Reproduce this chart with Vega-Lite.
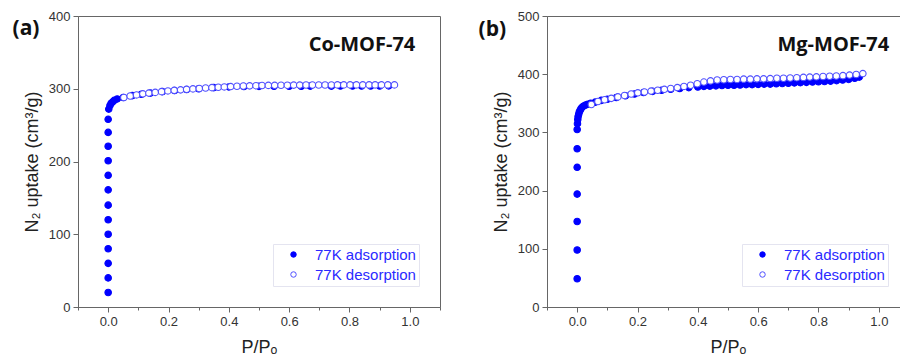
{
  "$schema": "https://vega.github.io/schema/vega-lite/v6.json",
  "padding": {"left": 12, "top": 9, "right": 0, "bottom": 0},
  "spacing": 37,
  "config": {
    "font": "Liberation Sans",
    "view": {"stroke": "#666666", "strokeWidth": 1},
    "axis": {
      "domainColor": "#666666", "tickColor": "#666666", "labelColor": "#333333",
      "labelFontSize": 13, "titleFontSize": 18, "titleFontWeight": "normal", "titleColor": "#222222",
      "grid": false, "labelOverlap": false, "labelFlush": false, "labelPadding": 3
    },
    "legend": {
      "orient": "bottom-right", "offset": 21, "title": null,
      "labelColor": "#2a2aff", "labelFontSize": 15, "labelFont": "Liberation Sans",
      "symbolSize": 30, "symbolStrokeWidth": 1, "symbolType": "circle",
      "strokeColor": "#e4e4f0", "fillColor": "#ffffff", "padding": 3, "symbolOffset": 10,
      "labelOffset": 14, "rowPadding": 4
    }
  },
  "datasets": {
    "co": [
      {"p": 0, "v": 20, "series": "77K adsorption"},
      {"p": 0, "v": 40, "series": "77K adsorption"},
      {"p": 0, "v": 60, "series": "77K adsorption"},
      {"p": 0, "v": 80, "series": "77K adsorption"},
      {"p": 0, "v": 100, "series": "77K adsorption"},
      {"p": 0, "v": 120, "series": "77K adsorption"},
      {"p": 0, "v": 140, "series": "77K adsorption"},
      {"p": 0, "v": 161, "series": "77K adsorption"},
      {"p": 0, "v": 181, "series": "77K adsorption"},
      {"p": 0, "v": 201, "series": "77K adsorption"},
      {"p": 0, "v": 221, "series": "77K adsorption"},
      {"p": 0, "v": 240, "series": "77K adsorption"},
      {"p": 0, "v": 258, "series": "77K adsorption"},
      {"p": 0.002, "v": 272, "series": "77K adsorption"},
      {"p": 0.006, "v": 277, "series": "77K adsorption"},
      {"p": 0.01, "v": 280, "series": "77K adsorption"},
      {"p": 0.015, "v": 282, "series": "77K adsorption"},
      {"p": 0.02, "v": 284, "series": "77K adsorption"},
      {"p": 0.03, "v": 286, "series": "77K adsorption"},
      {"p": 0.05, "v": 288, "series": "77K adsorption"},
      {"p": 0.08, "v": 290.5, "series": "77K adsorption"},
      {"p": 0.11, "v": 292.5, "series": "77K adsorption"},
      {"p": 0.14, "v": 294, "series": "77K adsorption"},
      {"p": 0.18, "v": 296, "series": "77K adsorption"},
      {"p": 0.22, "v": 297.5, "series": "77K adsorption"},
      {"p": 0.26, "v": 299, "series": "77K adsorption"},
      {"p": 0.3, "v": 300, "series": "77K adsorption"},
      {"p": 0.35, "v": 301.5, "series": "77K adsorption"},
      {"p": 0.4, "v": 302.5, "series": "77K adsorption"},
      {"p": 0.45, "v": 303, "series": "77K adsorption"},
      {"p": 0.5, "v": 303.3, "series": "77K adsorption"},
      {"p": 0.55, "v": 303.5, "series": "77K adsorption"},
      {"p": 0.6, "v": 303.5, "series": "77K adsorption"},
      {"p": 0.64, "v": 303.5, "series": "77K adsorption"},
      {"p": 0.67, "v": 303.6, "series": "77K adsorption"},
      {"p": 0.74, "v": 303.6, "series": "77K adsorption"},
      {"p": 0.77, "v": 303.7, "series": "77K adsorption"},
      {"p": 0.81, "v": 303.7, "series": "77K adsorption"},
      {"p": 0.84, "v": 303.7, "series": "77K adsorption"},
      {"p": 0.87, "v": 303.8, "series": "77K adsorption"},
      {"p": 0.9, "v": 303.8, "series": "77K adsorption"},
      {"p": 0.93, "v": 304, "series": "77K adsorption"},
      {"p": 0.052, "v": 288, "series": "77K desorption"},
      {"p": 0.073, "v": 290, "series": "77K desorption"},
      {"p": 0.094, "v": 291.5, "series": "77K desorption"},
      {"p": 0.115, "v": 293, "series": "77K desorption"},
      {"p": 0.135, "v": 294, "series": "77K desorption"},
      {"p": 0.156, "v": 295, "series": "77K desorption"},
      {"p": 0.177, "v": 296, "series": "77K desorption"},
      {"p": 0.198, "v": 297, "series": "77K desorption"},
      {"p": 0.219, "v": 297.8, "series": "77K desorption"},
      {"p": 0.24, "v": 298.5, "series": "77K desorption"},
      {"p": 0.26, "v": 299.2, "series": "77K desorption"},
      {"p": 0.281, "v": 299.8, "series": "77K desorption"},
      {"p": 0.302, "v": 300.4, "series": "77K desorption"},
      {"p": 0.323, "v": 301, "series": "77K desorption"},
      {"p": 0.344, "v": 301.5, "series": "77K desorption"},
      {"p": 0.365, "v": 302, "series": "77K desorption"},
      {"p": 0.385, "v": 302.5, "series": "77K desorption"},
      {"p": 0.406, "v": 303, "series": "77K desorption"},
      {"p": 0.427, "v": 303.4, "series": "77K desorption"},
      {"p": 0.448, "v": 303.8, "series": "77K desorption"},
      {"p": 0.469, "v": 304, "series": "77K desorption"},
      {"p": 0.49, "v": 304.2, "series": "77K desorption"},
      {"p": 0.51, "v": 304.4, "series": "77K desorption"},
      {"p": 0.531, "v": 304.6, "series": "77K desorption"},
      {"p": 0.552, "v": 304.7, "series": "77K desorption"},
      {"p": 0.573, "v": 304.8, "series": "77K desorption"},
      {"p": 0.594, "v": 304.9, "series": "77K desorption"},
      {"p": 0.615, "v": 305, "series": "77K desorption"},
      {"p": 0.635, "v": 305, "series": "77K desorption"},
      {"p": 0.656, "v": 305.1, "series": "77K desorption"},
      {"p": 0.677, "v": 305.1, "series": "77K desorption"},
      {"p": 0.698, "v": 305.2, "series": "77K desorption"},
      {"p": 0.719, "v": 305.2, "series": "77K desorption"},
      {"p": 0.74, "v": 305.2, "series": "77K desorption"},
      {"p": 0.76, "v": 305.3, "series": "77K desorption"},
      {"p": 0.781, "v": 305.3, "series": "77K desorption"},
      {"p": 0.802, "v": 305.3, "series": "77K desorption"},
      {"p": 0.823, "v": 305.3, "series": "77K desorption"},
      {"p": 0.844, "v": 305.3, "series": "77K desorption"},
      {"p": 0.865, "v": 305.3, "series": "77K desorption"},
      {"p": 0.885, "v": 305.3, "series": "77K desorption"},
      {"p": 0.906, "v": 305.3, "series": "77K desorption"},
      {"p": 0.927, "v": 305.3, "series": "77K desorption"},
      {"p": 0.949, "v": 305.3, "series": "77K desorption"}
    ],
    "mg": [
      {"p": 0, "v": 48.5, "series": "77K adsorption"},
      {"p": 0, "v": 98, "series": "77K adsorption"},
      {"p": 0, "v": 147, "series": "77K adsorption"},
      {"p": 0, "v": 194, "series": "77K adsorption"},
      {"p": 0, "v": 240, "series": "77K adsorption"},
      {"p": 0, "v": 272, "series": "77K adsorption"},
      {"p": 0, "v": 305, "series": "77K adsorption"},
      {"p": 0.001, "v": 315, "series": "77K adsorption"},
      {"p": 0.002, "v": 322, "series": "77K adsorption"},
      {"p": 0.003, "v": 327, "series": "77K adsorption"},
      {"p": 0.005, "v": 331, "series": "77K adsorption"},
      {"p": 0.007, "v": 335, "series": "77K adsorption"},
      {"p": 0.01, "v": 338, "series": "77K adsorption"},
      {"p": 0.013, "v": 341, "series": "77K adsorption"},
      {"p": 0.017, "v": 343.5, "series": "77K adsorption"},
      {"p": 0.022, "v": 345.5, "series": "77K adsorption"},
      {"p": 0.028, "v": 347, "series": "77K adsorption"},
      {"p": 0.035, "v": 348.5, "series": "77K adsorption"},
      {"p": 0.045, "v": 350, "series": "77K adsorption"},
      {"p": 0.06, "v": 352, "series": "77K adsorption"},
      {"p": 0.08, "v": 355, "series": "77K adsorption"},
      {"p": 0.1, "v": 357, "series": "77K adsorption"},
      {"p": 0.13, "v": 360, "series": "77K adsorption"},
      {"p": 0.16, "v": 363, "series": "77K adsorption"},
      {"p": 0.19, "v": 366, "series": "77K adsorption"},
      {"p": 0.22, "v": 368.5, "series": "77K adsorption"},
      {"p": 0.25, "v": 370.5, "series": "77K adsorption"},
      {"p": 0.28, "v": 372.5, "series": "77K adsorption"},
      {"p": 0.31, "v": 374, "series": "77K adsorption"},
      {"p": 0.34, "v": 375.5, "series": "77K adsorption"},
      {"p": 0.37, "v": 377, "series": "77K adsorption"},
      {"p": 0.4, "v": 378, "series": "77K adsorption"},
      {"p": 0.42, "v": 379, "series": "77K adsorption"},
      {"p": 0.44, "v": 379.5, "series": "77K adsorption"},
      {"p": 0.46, "v": 380, "series": "77K adsorption"},
      {"p": 0.48, "v": 380.5, "series": "77K adsorption"},
      {"p": 0.5, "v": 381, "series": "77K adsorption"},
      {"p": 0.52, "v": 381, "series": "77K adsorption"},
      {"p": 0.54, "v": 381.5, "series": "77K adsorption"},
      {"p": 0.56, "v": 382, "series": "77K adsorption"},
      {"p": 0.58, "v": 382, "series": "77K adsorption"},
      {"p": 0.6, "v": 382.5, "series": "77K adsorption"},
      {"p": 0.62, "v": 383, "series": "77K adsorption"},
      {"p": 0.64, "v": 383, "series": "77K adsorption"},
      {"p": 0.66, "v": 383.5, "series": "77K adsorption"},
      {"p": 0.68, "v": 384, "series": "77K adsorption"},
      {"p": 0.7, "v": 384.5, "series": "77K adsorption"},
      {"p": 0.72, "v": 385, "series": "77K adsorption"},
      {"p": 0.74, "v": 385.5, "series": "77K adsorption"},
      {"p": 0.76, "v": 386, "series": "77K adsorption"},
      {"p": 0.78, "v": 386.5, "series": "77K adsorption"},
      {"p": 0.8, "v": 387, "series": "77K adsorption"},
      {"p": 0.82, "v": 387.5, "series": "77K adsorption"},
      {"p": 0.84, "v": 388, "series": "77K adsorption"},
      {"p": 0.86, "v": 389, "series": "77K adsorption"},
      {"p": 0.88, "v": 390, "series": "77K adsorption"},
      {"p": 0.9, "v": 391, "series": "77K adsorption"},
      {"p": 0.92, "v": 393, "series": "77K adsorption"},
      {"p": 0.935, "v": 395, "series": "77K adsorption"},
      {"p": 0.047, "v": 348, "series": "77K desorption"},
      {"p": 0.069, "v": 353, "series": "77K desorption"},
      {"p": 0.091, "v": 356, "series": "77K desorption"},
      {"p": 0.113, "v": 358.5, "series": "77K desorption"},
      {"p": 0.135, "v": 361, "series": "77K desorption"},
      {"p": 0.157, "v": 363.5, "series": "77K desorption"},
      {"p": 0.179, "v": 366, "series": "77K desorption"},
      {"p": 0.201, "v": 368, "series": "77K desorption"},
      {"p": 0.223, "v": 369.5, "series": "77K desorption"},
      {"p": 0.245, "v": 371, "series": "77K desorption"},
      {"p": 0.267, "v": 372.5, "series": "77K desorption"},
      {"p": 0.289, "v": 374, "series": "77K desorption"},
      {"p": 0.31, "v": 375.5, "series": "77K desorption"},
      {"p": 0.332, "v": 377, "series": "77K desorption"},
      {"p": 0.354, "v": 379, "series": "77K desorption"},
      {"p": 0.376, "v": 381, "series": "77K desorption"},
      {"p": 0.398, "v": 383.5, "series": "77K desorption"},
      {"p": 0.42, "v": 386.5, "series": "77K desorption"},
      {"p": 0.442, "v": 388.5, "series": "77K desorption"},
      {"p": 0.464, "v": 390, "series": "77K desorption"},
      {"p": 0.486, "v": 390.5, "series": "77K desorption"},
      {"p": 0.508, "v": 391, "series": "77K desorption"},
      {"p": 0.53, "v": 391, "series": "77K desorption"},
      {"p": 0.552, "v": 391.5, "series": "77K desorption"},
      {"p": 0.574, "v": 391.5, "series": "77K desorption"},
      {"p": 0.596, "v": 392, "series": "77K desorption"},
      {"p": 0.618, "v": 392, "series": "77K desorption"},
      {"p": 0.64, "v": 392.5, "series": "77K desorption"},
      {"p": 0.662, "v": 393, "series": "77K desorption"},
      {"p": 0.684, "v": 393, "series": "77K desorption"},
      {"p": 0.706, "v": 393.5, "series": "77K desorption"},
      {"p": 0.728, "v": 394, "series": "77K desorption"},
      {"p": 0.75, "v": 394.5, "series": "77K desorption"},
      {"p": 0.771, "v": 395, "series": "77K desorption"},
      {"p": 0.793, "v": 395.5, "series": "77K desorption"},
      {"p": 0.815, "v": 396, "series": "77K desorption"},
      {"p": 0.837, "v": 396.5, "series": "77K desorption"},
      {"p": 0.859, "v": 397, "series": "77K desorption"},
      {"p": 0.881, "v": 397.5, "series": "77K desorption"},
      {"p": 0.903, "v": 398.5, "series": "77K desorption"},
      {"p": 0.925, "v": 399.5, "series": "77K desorption"},
      {"p": 0.947, "v": 401, "series": "77K desorption"}
    ]
  },
  "hconcat": [
    {
      "width": 362, "height": 291,
      "resolve": {"axis": {"x": "independent"}},
      "layer": [
        {
          "data": {"name": "co"},
          "mark": {"type": "circle", "size": 42, "strokeWidth": 1.1, "opacity": 1},
          "encoding": {
            "x": {"field": "p", "type": "quantitative", "scale": {"domain": [-0.1, 1.1], "nice": false, "zero": false},
              "axis": {"title": "P/Pₒ", "titlePadding": 10, "format": ".1f", "orient": "bottom", "tickSize": 5,
                "values": [0, 0.2, 0.4, 0.6, 0.8, 1.0]}},
            "y": {"field": "v", "type": "quantitative", "scale": {"domain": [0, 400], "nice": false},
              "axis": {"title": "N₂ uptake (cm³/g)", "titlePadding": 7,
                "values": [0, 50, 100, 150, 200, 250, 300, 350, 400],
                "labelExpr": "datum.value % 100 == 0 ? format(datum.value, 'd') : ''",
                "tickSize": {"condition": {"test": "datum.value % 100 == 0", "value": 5}, "value": 3}}},
            "fill": {"field": "series", "type": "nominal", "scale": {"domain": ["77K adsorption", "77K desorption"], "range": ["#0000ff", "#ffffff"]}},
            "stroke": {"field": "series", "type": "nominal", "scale": {"domain": ["77K adsorption", "77K desorption"], "range": ["#0000ff", "#5050ff"]}}
          }
        },
        {
          "data": {"values": [{"label": ""}]},
          "mark": {"type": "point", "opacity": 0},
          "encoding": {
            "x": {"datum": 0.5, "type": "quantitative",
              "axis": {"orient": "bottom", "values": [-0.1, 0.1, 0.3, 0.5, 0.7, 0.9, 1.1], "tickSize": 3, "labels": false, "domain": false, "title": null}}
          }
        },
        {
          "data": {"values": [{"label": "Co-MOF-74"}]},
          "mark": {"type": "text", "align": "right", "baseline": "middle", "font": "Open Sans", "fontWeight": "bold", "fontSize": 20, "color": "#111111"},
          "encoding": {"x": {"datum": 1.018, "type": "quantitative", "axis": null}, "y": {"datum": 360, "type": "quantitative"}, "text": {"field": "label"}}
        },
        {
          "data": {"values": [{"label": "(a)"}]},
          "mark": {"type": "text", "align": "left", "baseline": "middle", "font": "Open Sans", "fontWeight": "bold", "fontSize": 21, "color": "#111111"},
          "encoding": {"x": {"datum": -0.317, "type": "quantitative", "axis": null}, "y": {"datum": 381.5, "type": "quantitative"}, "text": {"field": "label"}}
        }
      ]
    },
    {
      "width": 362, "height": 291,
      "resolve": {"axis": {"x": "independent"}},
      "layer": [
        {
          "data": {"name": "mg"},
          "mark": {"type": "circle", "size": 42, "strokeWidth": 1.1, "opacity": 1},
          "encoding": {
            "x": {"field": "p", "type": "quantitative", "scale": {"domain": [-0.1, 1.1], "nice": false, "zero": false},
              "axis": {"title": "P/Pₒ", "titlePadding": 10, "format": ".1f", "orient": "bottom", "tickSize": 5,
                "values": [0, 0.2, 0.4, 0.6, 0.8, 1.0]}},
            "y": {"field": "v", "type": "quantitative", "scale": {"domain": [0, 500], "nice": false},
              "axis": {"title": "N₂ uptake (cm³/g)", "titlePadding": 7,
                "values": [0, 50, 100, 150, 200, 250, 300, 350, 400, 450, 500],
                "labelExpr": "datum.value % 100 == 0 ? format(datum.value, 'd') : ''",
                "tickSize": {"condition": {"test": "datum.value % 100 == 0", "value": 5}, "value": 3}}},
            "fill": {"field": "series", "type": "nominal", "scale": {"domain": ["77K adsorption", "77K desorption"], "range": ["#0000ff", "#ffffff"]}},
            "stroke": {"field": "series", "type": "nominal", "scale": {"domain": ["77K adsorption", "77K desorption"], "range": ["#0000ff", "#5050ff"]}}
          }
        },
        {
          "data": {"values": [{"label": ""}]},
          "mark": {"type": "point", "opacity": 0},
          "encoding": {
            "x": {"datum": 0.5, "type": "quantitative",
              "axis": {"orient": "bottom", "values": [-0.1, 0.1, 0.3, 0.5, 0.7, 0.9, 1.1], "tickSize": 3, "labels": false, "domain": false, "title": null}}
          }
        },
        {
          "data": {"values": [{"label": "Mg-MOF-74"}]},
          "mark": {"type": "text", "align": "right", "baseline": "middle", "font": "Open Sans", "fontWeight": "bold", "fontSize": 20, "color": "#111111"},
          "encoding": {"x": {"datum": 1.034, "type": "quantitative", "axis": null}, "y": {"datum": 450, "type": "quantitative"}, "text": {"field": "label"}}
        },
        {
          "data": {"values": [{"label": "(b)"}]},
          "mark": {"type": "text", "align": "left", "baseline": "middle", "font": "Open Sans", "fontWeight": "bold", "fontSize": 21, "color": "#111111"},
          "encoding": {"x": {"datum": -0.327, "type": "quantitative", "axis": null}, "y": {"datum": 476.5, "type": "quantitative"}, "text": {"field": "label"}}
        }
      ]
    }
  ],
  "resolve": {"scale": {"fill": "independent", "stroke": "independent"}, "legend": {"fill": "independent", "stroke": "independent"}}
}
